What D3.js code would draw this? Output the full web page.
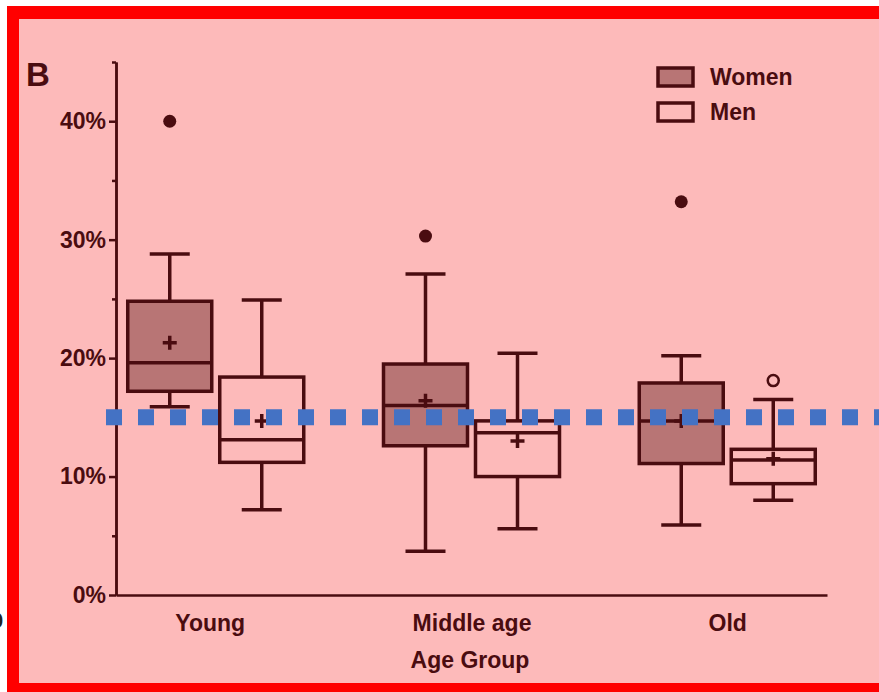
<!DOCTYPE html>
<html>
<head>
<meta charset="utf-8">
<script src="https://cdn.jsdelivr.net/npm/d3@7"></script>
<style>
  body { margin: 0; background: #fff; }
  text { font-family: "Liberation Sans", Arial, sans-serif; font-weight: bold; }
</style>
</head>
<body>
<script>
const width = 879;
const height = 692;

// data (percent)
const groups = ["Young", "Middle age", "Old"];
const series = ["Women", "Men"];
const yTicks = [0, 10, 20, 30, 40];
const yMinorTicks = [5, 15, 25, 35, 45];

const womenLow = [15.9, 3.7, 5.9];
const womenQ1 = [17.2, 12.6, 11.1];
const womenMedian = [19.6, 16.0, 14.7];
const womenQ3 = [24.8, 19.5, 17.9];
const womenHigh = [28.8, 27.1, 20.2];
const womenMean = [21.3, 16.4, 14.7];
const womenOutliers = [[40.0], [30.3], [33.2]];

const menLow = [7.2, 5.6, 8.0];
const menQ1 = [11.2, 10.0, 9.4];
const menMedian = [13.1, 13.7, 11.4];
const menQ3 = [18.4, 14.7, 12.3];
const menHigh = [24.9, 20.4, 16.5];
const menMean = [14.7, 13.0, 11.5];
const menOutliers = [[], [], [18.1]];

const refLine = 15;

const dark = "#4a0c10";
const fills = { Women: "#b87575", Men: "none" };

const boxes = [];
groups.forEach((g, i) => {
  boxes.push({ group: g, series: "Women", low: womenLow[i], q1: womenQ1[i], med: womenMedian[i],
    q3: womenQ3[i], high: womenHigh[i], mean: womenMean[i], out: womenOutliers[i] });
  boxes.push({ group: g, series: "Men", low: menLow[i], q1: menQ1[i], med: menMedian[i],
    q3: menQ3[i], high: menHigh[i], mean: menMean[i], out: menOutliers[i] });
});

const svg = d3.select("body").append("svg")
  .attr("width", width)
  .attr("height", height);

// frame
svg.append("rect").attr("x", 7).attr("y", 6).attr("width", width).attr("height", height)
  .attr("fill", "#ff0000");
svg.append("rect").attr("x", 19).attr("y", 19).attr("width", width).attr("height", 664)
  .attr("fill", "#fdbaba");

// clipped glyph at the far left (cut off in the source too)
svg.append("text").attr("x", -9).attr("y", 628).attr("font-size", 22).attr("fill", "#222").text("0");

const x0 = d3.scalePoint().domain(groups).range([116, 827]).padding(0.39);
const x1 = d3.scaleBand().domain(series).range([-88, 88]).paddingInner(0.087);
const y = d3.scaleLinear().domain([0, 45]).range([595, 62]);

// axes
const yAxis = svg.append("g")
  .attr("transform", "translate(116,0)")
  .call(d3.axisLeft(y).tickValues(yTicks).tickFormat(d => d + "%").tickSize(7).tickSizeOuter(0).tickPadding(3));
const yMinor = svg.append("g")
  .attr("transform", "translate(116,0)")
  .call(d3.axisLeft(y).tickValues(yMinorTicks).tickFormat("").tickSize(4).tickSizeOuter(0));
const xAxis = svg.append("g")
  .attr("transform", "translate(0,595)")
  .call(d3.axisBottom(x0).tickSize(0).tickPadding(20));

[yAxis, yMinor, xAxis].forEach(a => {
  a.selectAll("path, line").attr("stroke", dark).attr("stroke-width", 2.5);
  a.selectAll("text").attr("fill", dark).attr("font-size", 23);
});
xAxis.selectAll("text").attr("dx", (d, i) => i === 0 ? -6 : 0);

svg.append("text").attr("x", 470).attr("y", 668).attr("text-anchor", "middle")
  .attr("font-size", 23).attr("fill", dark).text("Age Group");

svg.append("text").attr("x", 26).attr("y", 86).attr("font-size", 33)
  .attr("fill", dark).text("B");

// boxes
const bw = x1.bandwidth();
const g = svg.selectAll("g.box").data(boxes).enter().append("g")
  .attr("class", "box")
  .attr("transform", d => `translate(${x0(d.group) + x1(d.series) + bw / 2},0)`);

g.append("line").attr("y1", d => y(d.high)).attr("y2", d => y(d.q3))
  .attr("stroke", dark).attr("stroke-width", 3.5);
g.append("line").attr("y1", d => y(d.low)).attr("y2", d => y(d.q1))
  .attr("stroke", dark).attr("stroke-width", 3.5);
g.append("line").attr("x1", -20).attr("x2", 20).attr("y1", d => y(d.high)).attr("y2", d => y(d.high))
  .attr("stroke", dark).attr("stroke-width", 3.5);
g.append("line").attr("x1", -20).attr("x2", 20).attr("y1", d => y(d.low)).attr("y2", d => y(d.low))
  .attr("stroke", dark).attr("stroke-width", 3.5);
g.append("rect")
  .attr("x", -bw / 2).attr("width", bw)
  .attr("y", d => y(d.q3)).attr("height", d => y(d.q1) - y(d.q3))
  .attr("fill", d => fills[d.series]).attr("stroke", dark).attr("stroke-width", 3.5);
g.append("line").attr("x1", -bw / 2).attr("x2", bw / 2).attr("y1", d => y(d.med)).attr("y2", d => y(d.med))
  .attr("stroke", dark).attr("stroke-width", 3.5);
// mean
g.append("path").attr("d", d => `M-7,${y(d.mean)}h14M0,${y(d.mean) - 7}v14`)
  .attr("stroke", dark).attr("stroke-width", 3.5);
// outliers
g.selectAll("circle").data(d => d.out.map(v => ({ v, s: d.series }))).enter().append("circle")
  .attr("cy", d => y(d.v)).attr("r", d => d.s === "Women" ? 6.5 : 5.5)
  .attr("fill", d => d.s === "Women" ? dark : "none")
  .attr("stroke", dark).attr("stroke-width", d => d.s === "Women" ? 0 : 2.5);

// legend
const legend = svg.selectAll("g.legend").data(series).enter().append("g")
  .attr("class", "legend")
  .attr("transform", (d, i) => `translate(658,${68 + i * 35})`);
legend.append("rect").attr("width", 35).attr("height", 18)
  .attr("fill", d => fills[d]).attr("stroke", dark).attr("stroke-width", 3.5);
legend.append("text").attr("x", 52).attr("y", 17).attr("font-size", 23).attr("fill", dark).text(d => d);

// reference line
svg.append("line")
  .attr("x1", 106).attr("x2", width)
  .attr("y1", y(refLine)).attr("y2", y(refLine))
  .attr("stroke", "#4472c4").attr("stroke-width", 16).attr("stroke-dasharray", "16 16");
</script>
</body>
</html>
